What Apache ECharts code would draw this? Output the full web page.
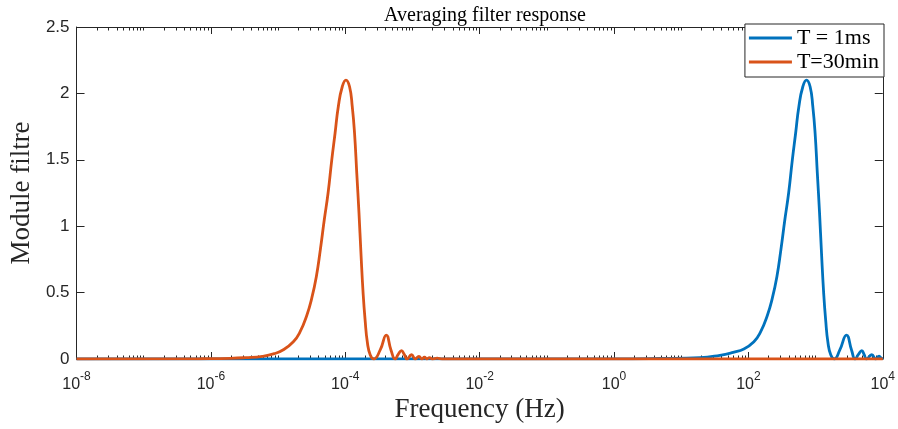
<!DOCTYPE html>
<html>
<head>
<meta charset="utf-8">
<script src="https://cdn.jsdelivr.net/npm/echarts@6/dist/echarts.min.js"></script>
<style>html,body{margin:0;padding:0;background:#fff}#c{width:898px;height:429px}</style>
</head>
<body>
<div id="c"></div>
<script>
// log10 of frequency (Hz) and filter modulus
const blueLogFreq = [-8, 0.0, 0.684, 1.279, 1.576, 1.774, 1.933, 2.082, 2.178, 2.283, 2.357, 2.424, 2.483, 2.543, 2.599, 2.654, 2.703, 2.751, 2.810, 2.865, 2.919, 2.959, 2.993, 3.026, 3.059, 3.088, 3.120, 3.149, 3.185, 3.227, 3.279, 3.361, 3.460, 3.535, 3.588, 3.638, 3.688, 3.722, 3.758, 3.836, 3.896, 3.945, 3.981, 4.0];
const blueValues  = [0, 0.001, 0.004, 0.01, 0.028, 0.05, 0.075, 0.13, 0.2, 0.33, 0.46, 0.62, 0.82, 1.05, 1.25, 1.5, 1.7, 1.9, 2.05, 2.1, 2.05, 1.9, 1.7, 1.4, 1.1, 0.8, 0.5, 0.3, 0.12, 0.03, 0, 0.068, 0.18, 0.068, 0, 0.035, 0.063, 0.035, 0, 0.032, 0, 0.022, 0.005, 0.012];
const redLogFreq = [-8, -6.5, -6.156, -5.710, -5.487, -5.234, -5.056, -4.922, -4.773, -4.677, -4.572, -4.498, -4.431, -4.372, -4.312, -4.256, -4.201, -4.152, -4.104, -4.045, -3.990, -3.936, -3.896, -3.862, -3.829, -3.796, -3.767, -3.735, -3.706, -3.670, -3.628, -3.576, -3.480, -3.390, -3.320, -3.257, -3.212, -3.163, -3.123, -3.082, -3.014, -2.959, -2.904, -2.859, -2.821, -2.785, -2.746, -2.706, -2.632, -2.558, 4];
const redValues  = [0, 0.001, 0.002, 0.005, 0.01, 0.02, 0.04, 0.07, 0.13, 0.2, 0.33, 0.46, 0.62, 0.82, 1.05, 1.25, 1.5, 1.7, 1.9, 2.05, 2.1, 2.05, 1.9, 1.7, 1.4, 1.1, 0.8, 0.5, 0.3, 0.12, 0.03, 0, 0.068, 0.18, 0.068, 0, 0.035, 0.063, 0.035, 0, 0.032, 0, 0.02, 0, 0.013, 0, 0.01, 0, 0.006, 0, 0];
const seriesNames = ['T = 1ms', 'T=30min'];
const xTickExponents = [-8, -6, -4, -2, 0, 2, 4];
const yTicks = [0, 0.5, 1, 1.5, 2, 2.5];

const toPairs = (lf, v) => lf.map((e, i) => [Math.pow(10, e), v[i]]);

// minor tick positions (log space): 2..9 in each decade, plus odd decades
const minorTicks = [];
for (let n = -8; n < 4; n++) {
  for (let k = 1; k <= 9; k++) {
    if (k === 1 && n % 2 === 0) continue;
    minorTicks.push(n + Math.log10(k));
  }
}
const axisColor = '#262626';
const base = (pos) => ({
  type: 'value', min: -8, max: 4, position: pos, gridIndex: 0,
  axisLine: { show: false, onZero: false }, splitLine: { show: false }, axisLabel: { show: false }
});

const chart = echarts.init(document.getElementById('c'), null, { renderer: 'canvas' });
chart.setOption({
  animation: false,
  backgroundColor: '#fff',
  title: {
    text: 'Averaging filter response', left: 480, textAlign: 'center', top: 1,
    textStyle: { fontFamily: 'Liberation Serif', fontSize: 20, fontWeight: 'normal', color: '#000' }
  },
  grid: { left: 76, right: 15, top: 27, bottom: 70, containLabel: false },
  legend: {
    data: seriesNames, orient: 'vertical', right: 14, top: 24,
    icon: 'rect', itemWidth: 43, itemHeight: 2.8, itemGap: 2,
    padding: [3, 5, 4, 4], borderColor: axisColor, borderWidth: 1, backgroundColor: '#fff',
    textStyle: { fontFamily: 'Liberation Serif', fontSize: 22, color: '#000', lineHeight: 22 }
  },
  xAxis: [
    {
      type: 'log', logBase: 10, min: 1e-8, max: 1e4, position: 'bottom',
      axisLine: { show: true, onZero: false, lineStyle: { color: axisColor, width: 1 } },
      axisTick: { show: false }, axisLabel: { show: false }, splitLine: { show: false },
      name: 'Frequency (Hz)', nameLocation: 'middle', nameGap: 37,
      nameTextStyle: { fontFamily: 'Liberation Serif', fontSize: 27, color: '#262626' }
    },
    Object.assign(base('bottom'), {
      interval: 2,
      axisTick: { show: true, inside: true, length: 7, lineStyle: { color: axisColor } },
      axisLabel: {
        show: true, margin: 12, color: '#262626',
        formatter: v => '{b|10}{e|' + v + '}',
        customValues: xTickExponents,
        rich: {
          b: { fontFamily: 'Liberation Sans', fontSize: 16, color: '#262626' },
          e: { fontFamily: 'Liberation Sans', fontSize: 12, color: '#262626', padding: [0, 0, 16, 0] }
        }
      }
    }),
    Object.assign(base('bottom'), {
      axisTick: { show: true, inside: true, length: 3.5, customValues: minorTicks, lineStyle: { color: axisColor } }
    }),
    Object.assign(base('top'), {
      interval: 2,
      axisLine: { show: true, onZero: false, lineStyle: { color: axisColor, width: 1 } },
      axisTick: { show: true, inside: true, length: 7, lineStyle: { color: axisColor } }
    }),
    Object.assign(base('top'), {
      axisTick: { show: true, inside: true, length: 3.5, customValues: minorTicks, lineStyle: { color: axisColor } }
    })
  ],
  yAxis: [
    {
      type: 'value', min: 0, max: 2.5, interval: 0.5, position: 'left',
      axisLine: { show: true, onZero: false, lineStyle: { color: axisColor, width: 1 } },
      axisTick: { show: true, inside: true, length: 8, lineStyle: { color: axisColor } },
      axisLabel: { fontFamily: 'Liberation Sans', fontSize: 17, color: '#262626', margin: 7,
        customValues: yTicks },
      splitLine: { show: false },
      name: 'Module filtre', nameLocation: 'middle', nameGap: 30, nameRotate: 90,
      nameTextStyle: { fontFamily: 'Liberation Serif', fontSize: 27, color: '#262626' }
    },
    {
      type: 'value', min: 0, max: 2.5, interval: 0.5, position: 'right',
      axisLine: { show: true, onZero: false, lineStyle: { color: axisColor, width: 1 } },
      axisTick: { show: true, inside: true, length: 8, lineStyle: { color: axisColor } },
      axisLabel: { show: false }, splitLine: { show: false }
    }
  ],
  series: [
    {
      name: seriesNames[0], type: 'line', xAxisIndex: 0, yAxisIndex: 0,
      data: toPairs(blueLogFreq, blueValues), showSymbol: false, symbol: 'none',
      smooth: 0.5,
      lineStyle: { color: '#0072BD', width: 2.8 }, itemStyle: { color: '#0072BD' }
    },
    {
      name: seriesNames[1], type: 'line', xAxisIndex: 0, yAxisIndex: 0,
      data: toPairs(redLogFreq, redValues), showSymbol: false, symbol: 'none',
      smooth: 0.5,
      lineStyle: { color: '#D95319', width: 2.8 }, itemStyle: { color: '#D95319' }
    }
  ]
});
</script>
</body>
</html>
